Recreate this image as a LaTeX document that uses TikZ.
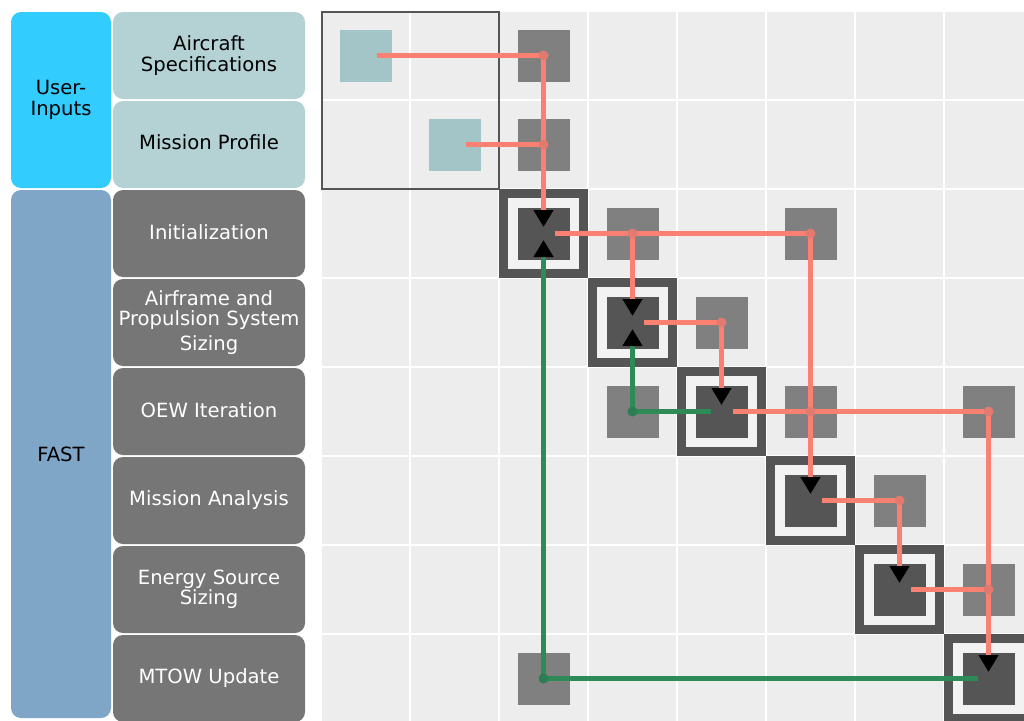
\documentclass[tikz,border=0pt]{standalone}
\usepackage{fontspec}
\setmainfont{DejaVu Sans}
\usetikzlibrary{arrows.meta,calc}
\definecolor{uicyan}{HTML}{33CCFF}
\definecolor{uiteal}{HTML}{B4D2D4}
\definecolor{fastblue}{HTML}{7FA6C6}
\definecolor{modgray}{HTML}{767676}
\definecolor{cellbg}{HTML}{EDEDED}
\definecolor{ringc}{HTML}{F2F2F2}
\definecolor{dk}{HTML}{555555}
\definecolor{offgray}{HTML}{808080}
\definecolor{tealsq}{HTML}{A3C5C7}
\definecolor{salm}{HTML}{FA8072}
\definecolor{salmdot}{HTML}{E27A70}
\definecolor{sgreen}{HTML}{2E8B57}
\definecolor{sgreendot}{HTML}{2B7D52}
\newcommand{\mylabfont}{\fontsize{19.6}{20.5}\selectfont}
\newcommand{\up}[2]{\raisebox{#1}{#2}}
\begin{document}
\begin{tikzpicture}[x=1pt,y=-1pt,
  lab/.style={rounded corners=10pt, inner sep=0pt, outer sep=0pt, align=center, font=\mylabfont, draw=none},
  inbox/.style={lab, fill=uiteal, text=black, minimum width=192pt, minimum height=87pt},
  modbox/.style={lab, fill=modgray, text=white, minimum width=192pt, minimum height=87pt},
  tsq/.style={minimum size=52pt, inner sep=0pt, outer sep=0pt, fill=tealsq},
  gsq/.style={minimum size=52pt, inner sep=0pt, outer sep=0pt, fill=offgray},
  dsq/.style={minimum size=52pt, inner sep=0pt, outer sep=0pt, fill=dk},
  fwd/.style={line width=5pt, draw=salm},
  bwd/.style={line width=5pt, draw=sgreen},
  tip/.style={-{Triangle[length=17pt,width=19pt,color=black]}}
]
\useasboundingbox (0,0) rectangle (1024,720);
\clip (0,0) rectangle (1024,720);
\fill[white] (0,0) rectangle (1024,720);

% left labels
\node[lab, fill=uicyan, minimum width=100pt, minimum height=176pt] (ui) at (61,100) {User-\\Inputs};
\node[lab, fill=fastblue, minimum width=100pt, minimum height=528pt] (fast) at (61,454) {FAST};
\node[inbox] (acs) at (209,55.5) {Aircraft\\Specifications};
\node[inbox] (mp) at (209,144.5) {\up{5pt}{Mission Profile}};
\node[modbox] (init) at (209,233.5) {\up{3pt}{Initialization}};
\node[modbox] (aps) at (209,322.5) {Airframe and\\Propulsion System\\[4pt]Sizing};
\node[modbox] (oew) at (209,411.5) {\up{3pt}{OEW Iteration}};
\node[modbox] (ma) at (209,500.5) {\up{2pt}{Mission Analysis}};
\node[modbox] (ess) at (209,589.5) {Energy Source\\Sizing};
\node[modbox] (mtow) at (209,678.5) {\up{3pt}{MTOW Update}};

% matrix cells
\foreach \r in {0,...,7}{\foreach \c in {0,...,7}{
  \fill[cellbg] ({322+89*\c},{12+89*\r}) rectangle ++(87,87);
}}
\draw[dk, line width=2pt] (322,12) rectangle (498.5,188.5);

% diagonal frames
\foreach \k in {2,...,7}{
  \fill[dk] ({321+89*\k},{11+89*\k}) rectangle ++(89,89);
  \fill[ringc] ({330+89*\k},{20+89*\k}) rectangle ++(71,71);
}

% squares
\node[tsq] (n00) at (365.5,55.5) {};
\node[tsq] (n11) at (454.5,144.5) {};
\node[gsq] (n02) at (543.5,55.5) {};
\node[gsq] (n12) at (543.5,144.5) {};
\node[gsq] (n23) at (632.5,233.5) {};
\node[gsq] (n25) at (810.5,233.5) {};
\node[gsq] (n34) at (721.5,322.5) {};
\node[gsq] (n43) at (632.5,411.5) {};
\node[gsq] (n45) at (810.5,411.5) {};
\node[gsq] (n47) at (988.5,411.5) {};
\node[gsq] (n56) at (899.5,500.5) {};
\node[gsq] (n67) at (988.5,589.5) {};
\node[gsq] (n72) at (543.5,678.5) {};
\node[dsq] (n22) at (543.5,233.5) {};
\node[dsq] (n33) at (632.5,322.5) {};
\node[dsq] (n44) at (721.5,411.5) {};
\node[dsq] (n55) at (810.5,500.5) {};
\node[dsq] (n66) at (899.5,589.5) {};
\node[dsq] (n77) at (988.5,678.5) {};

% forward (salmon) connectors
\draw[fwd,tip] ([xshift=11pt]n00.center) -- (n02.center) -- ([yshift=6.5pt]n22.center);
\draw[fwd] ([xshift=11pt]n11.center) -- (n12.center);
\draw[fwd] ([xshift=11pt]n22.center) -- (n25.center);
\draw[fwd,tip] (n23.center) -- ([yshift=6.5pt]n33.center);
\draw[fwd,tip] (n25.center) -- ([yshift=6.5pt]n55.center);
\draw[fwd,tip] ([xshift=11pt]n33.center) -- (n34.center) -- ([yshift=6.5pt]n44.center);
\draw[fwd] ([xshift=11pt]n44.center) -- (n47.center);
\draw[fwd,tip] (n47.center) -- ([yshift=6.5pt]n77.center);
\draw[fwd,tip] ([xshift=11pt]n55.center) -- (n56.center) -- ([yshift=6.5pt]n66.center);
\draw[fwd] ([xshift=11pt]n66.center) -- (n67.center);

% feedback (green) connectors
\draw[bwd,tip] ([xshift=-11pt]n77.center) -- (n72.center) -- ([yshift=-6.5pt]n22.center);
\draw[bwd,tip] ([xshift=-11pt]n44.center) -- (n43.center) -- ([yshift=-6.5pt]n33.center);

% junction dots
\foreach \n in {n02,n12,n23,n25,n34,n45,n47,n56,n67}{
  \fill[salmdot] (\n.center) circle (5pt);
}
\foreach \n in {n72,n43}{
  \fill[sgreendot] (\n.center) circle (5pt);
}
\end{tikzpicture}
\end{document}
